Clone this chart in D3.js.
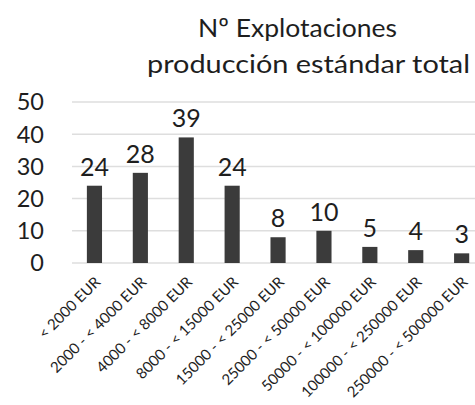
<!DOCTYPE html>
<html><head><meta charset="utf-8">
<script src="https://cdn.jsdelivr.net/npm/d3@7"></script>
<style>body{margin:0;background:#fff}</style>
</head><body>
<svg id="c" width="475" height="405"></svg>
<script>
const categories = ["< 2000 EUR","2000 - < 4000 EUR","4000 - < 8000 EUR","8000 - < 15000 EUR","15000 - < 25000 EUR","25000 - < 50000 EUR","50000 - < 100000 EUR","100000 - < 250000 EUR","250000 - < 500000 EUR"];
const values = [24,28,39,24,8,10,5,4,3];
const yTicks = [0,10,20,30,40,50];
const titleLines = ["Nº Explotaciones","producción estándar total"];

const font = "Lato, 'Open Sans', sans-serif";
const svg = d3.select("#c");
const x = d3.scaleBand().domain(categories).range([71.5, 484.6]).paddingInner(0.67).paddingOuter(0.335);
const y = d3.scaleLinear().domain([0,50]).range([263,102]);

svg.append("g").selectAll("line").data(yTicks).join("line")
  .attr("x1",72).attr("x2",475).attr("y1",d=>y(d)).attr("y2",d=>y(d))
  .attr("stroke","#dedede").attr("stroke-width",1.5);

svg.append("g").selectAll("text").data(yTicks).join("text")
  .attr("x",44).attr("y",d=>y(d)).attr("dy","0.36em").attr("text-anchor","end")
  .attr("font-family",font).attr("font-size",23.5).attr("fill","#1e1e1e").text(d=>d);

svg.append("g").selectAll("rect").data(values).join("rect")
  .attr("x",(d,i)=>x(categories[i])).attr("width",x.bandwidth())
  .attr("y",d=>y(d)).attr("height",d=>y(0)-y(d)).attr("fill","#3b3b3b");

svg.append("g").selectAll("text").data(values).join("text")
  .attr("x",(d,i)=>x(categories[i])+x.bandwidth()/2).attr("y",d=>y(d)-10)
  .attr("text-anchor","middle").attr("font-family",font).attr("font-size",25).attr("fill","#1e1e1e").text(d=>d);

svg.append("g").selectAll("text").data(categories).join("text")
  .attr("transform",d=>`translate(${x(d)+x.bandwidth()/2+7},${y(0)+20}) rotate(-45)`)
  .attr("text-anchor","end").attr("font-family",font).attr("font-size",15).attr("fill","#1e1e1e").text(d=>d);

const titleX = [297.5, 308.5], titleLen = [199, 323], titleY = [37, 73];
svg.append("g").selectAll("text").data(titleLines).join("text")
  .attr("x",(d,i)=>titleX[i]).attr("y",(d,i)=>titleY[i]).attr("text-anchor","middle")
  .attr("textLength",(d,i)=>titleLen[i]).attr("lengthAdjust","spacingAndGlyphs")
  .attr("font-family",font).attr("font-size",25.5).attr("fill","#1e1e1e").text(d=>d);
</script>
</body></html>
